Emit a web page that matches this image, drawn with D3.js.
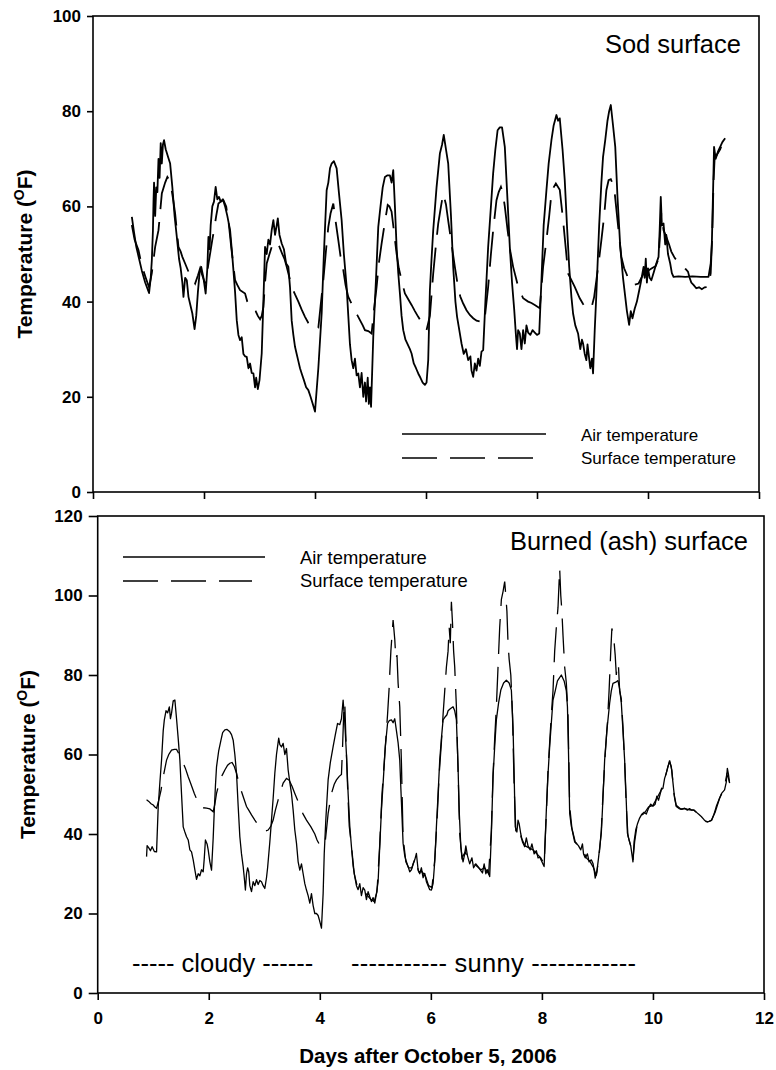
<!DOCTYPE html>
<html>
  <head>
    <meta charset="utf-8" />
    <script src="https://d3js.org/d3.v7.min.js"></script>
    <style>
      body { margin: 0; background: #fff; }
      text { font-family: "Liberation Sans", Arial, sans-serif; }
    </style>
  </head>
  <body>
    <svg id="viz"></svg>
    <script>
    // days after Oct 5 2006 vs temperature (F)
    var sodAir = [[0.70,57.8],[0.74,54.5],[0.78,51.5],[0.83,49],[0.88,46.5],[0.94,44],[1.01,41.8],[1.04,45],[1.06,48.7],[1.08,55],[1.09,61],[1.10,65],[1.12,58],[1.14,64],[1.16,63],[1.18,70],[1.20,66],[1.22,73.3],[1.24,69],[1.26,73],[1.28,73.9],[1.31,72],[1.35,70.5],[1.39,69],[1.43,64],[1.47,58],[1.51,53.6],[1.55,49],[1.58,47],[1.61,44],[1.63,41],[1.66,45],[1.69,44.5],[1.72,41],[1.75,39.5],[1.79,37.5],[1.83,34.2],[1.86,37],[1.89,42],[1.92,46],[1.95,47.3],[1.99,45],[2.03,41.7],[2.06,47],[2.08,53.6],[2.10,51],[2.12,56],[2.15,60],[2.18,61],[2.21,64.1],[2.24,61.5],[2.27,62],[2.30,61],[2.34,61.5],[2.38,60],[2.42,58],[2.47,55],[2.50,51],[2.53,46.6],[2.56,42],[2.59,36.1],[2.62,33],[2.65,31.9],[2.68,32.5],[2.71,29],[2.74,28.5],[2.77,28.4],[2.80,26],[2.83,27],[2.86,25],[2.89,24.9],[2.92,22],[2.94,24],[2.97,21.6],[3.00,23.5],[3.04,29.1],[3.07,40],[3.10,51.5],[3.13,50],[3.16,53],[3.19,52],[3.22,55],[3.25,57.1],[3.28,54],[3.31,56],[3.33,57.5],[3.36,54],[3.40,52.2],[3.44,51],[3.48,48],[3.52,47.3],[3.55,43],[3.58,36],[3.61,33],[3.64,30.5],[3.67,29],[3.70,27.5],[3.73,26],[3.76,24.9],[3.80,23.5],[3.84,22],[3.88,21.4],[3.92,20],[3.96,18.5],[4.00,16.9],[4.06,26],[4.12,37.5],[4.16,50],[4.21,63.4],[4.24,65],[4.27,68],[4.30,69],[4.34,69.5],[4.39,68],[4.43,63],[4.48,57.1],[4.52,50],[4.57,43.1],[4.60,37],[4.63,31],[4.66,27.7],[4.69,26],[4.72,28],[4.75,24.5],[4.78,24.9],[4.81,22],[4.84,25],[4.87,20],[4.90,23],[4.92,19],[4.95,24],[4.97,18.5],[4.99,22],[5.01,17.9],[5.05,32.6],[5.10,45],[5.14,55.7],[5.18,60],[5.22,64],[5.26,66.2],[5.30,66.5],[5.35,66.5],[5.38,65],[5.41,67.6],[5.44,60],[5.47,51.5],[5.50,46],[5.53,41.7],[5.56,37],[5.59,34],[5.63,32],[5.67,31],[5.71,30],[5.74,29.1],[5.78,27],[5.82,26],[5.86,24.9],[5.90,24],[5.94,23],[5.98,22.5],[6.01,23],[6.04,27.7],[6.07,42.4],[6.10,49],[6.13,55],[6.19,64],[6.25,71.1],[6.29,73],[6.32,75],[6.36,72],[6.40,69],[6.45,58],[6.49,47.3],[6.53,40],[6.56,36.8],[6.60,34],[6.64,31.2],[6.68,29],[6.72,30],[6.76,27.7],[6.80,28.5],[6.82,25.5],[6.85,24.2],[6.88,27],[6.91,25.5],[6.94,28],[6.97,26.5],[7.00,29.5],[7.03,29.8],[7.07,40],[7.12,51.5],[7.17,60],[7.21,67],[7.25,72],[7.29,76],[7.33,76.6],[7.37,76.6],[7.42,72.5],[7.47,61],[7.51,51.5],[7.55,44],[7.59,38.2],[7.62,33],[7.64,30],[7.66,34],[7.69,33.3],[7.72,30],[7.75,34],[7.78,31.2],[7.81,35],[7.84,33.5],[7.88,33],[7.92,34],[7.96,33.5],[8.00,33],[8.04,33.3],[8.08,44.5],[8.12,56],[8.17,63.4],[8.21,69],[8.26,73.9],[8.30,77],[8.35,79.2],[8.38,78],[8.41,78.5],[8.46,72],[8.50,65.5],[8.54,56],[8.58,47.3],[8.62,41],[8.65,37.5],[8.69,35],[8.74,33.3],[8.78,30],[8.81,32],[8.83,31.2],[8.86,29],[8.89,27.7],[8.91,31],[8.93,29],[8.96,26],[8.99,28],[9.01,24.9],[9.04,34],[9.07,41.7],[9.12,56],[9.16,65],[9.19,70.4],[9.23,74],[9.27,78],[9.30,80],[9.33,81.3],[9.37,77],[9.41,72.5],[9.45,62],[9.50,51.5],[9.55,45],[9.59,41],[9.62,38],[9.66,35.1],[9.69,38],[9.72,36.5],[9.76,38.5],[9.80,40],[9.83,41.7],[9.87,44],[9.90,46],[9.92,47.3],[9.94,45],[9.96,49],[9.98,44],[10.00,47],[10.03,45],[10.06,44.5],[10.10,46],[10.15,48],[10.19,49.4],[10.21,55],[10.23,62],[10.25,56],[10.28,56.4],[10.31,52],[10.33,54],[10.36,50],[10.40,48],[10.43,46],[10.46,45.2],[10.55,45.3],[10.67,45.2],[10.80,45.3],[10.95,45.2],[11.09,45.2],[11.13,48],[11.15,52],[11.17,62],[11.19,72.5],[11.22,70],[11.26,71.5],[11.30,72.5],[11.34,73.5],[11.39,74.3]];

    var sodSurface = [[0.70,56.1],[0.75,53],[0.82,50.8],[0.88,47.5],[0.95,45],[1.01,43],[1.06,46],[1.12,51.5],[1.18,55],[1.24,62.7],[1.30,65],[1.34,66.2],[1.38,65.5],[1.41,64],[1.45,61],[1.48,58.5],[1.54,51.5],[1.58,50.5],[1.61,49.4],[1.66,48],[1.72,46.3],[1.78,45],[1.84,43.8],[1.89,45.5],[1.93,47],[1.97,45.5],[2.02,43.8],[2.06,46.5],[2.11,50.1],[2.15,53],[2.19,55.7],[2.22,58],[2.26,60.6],[2.30,61],[2.35,61.3],[2.40,60],[2.45,56],[2.49,51.5],[2.53,47.5],[2.56,44.5],[2.60,43.5],[2.65,42.4],[2.70,42],[2.74,41.7],[2.78,40],[2.83,38.6],[2.88,38.5],[2.93,38],[2.97,37],[3.01,36.3],[3.04,37],[3.07,38.9],[3.10,44],[3.13,48],[3.18,50],[3.22,51.5],[3.27,52.5],[3.31,52.6],[3.36,51.5],[3.41,50],[3.45,49],[3.49,47.3],[3.54,45],[3.58,43.1],[3.64,41.5],[3.70,40],[3.76,38.3],[3.82,36.8],[3.88,35.5],[3.94,34.4],[4.00,34.2],[4.06,34.5],[4.10,39],[4.15,44.5],[4.20,51],[4.24,55.7],[4.28,58.5],[4.33,60.6],[4.37,57],[4.42,52.9],[4.46,49.5],[4.51,46.6],[4.55,43.5],[4.60,41],[4.66,39.5],[4.72,37.9],[4.77,37],[4.81,36.1],[4.86,35],[4.90,34],[4.96,33.8],[5.02,33.3],[5.06,38],[5.11,43.1],[5.15,48],[5.20,52.2],[5.25,56],[5.31,60.3],[5.34,60],[5.38,58.9],[5.42,55],[5.47,50.1],[5.51,47],[5.56,44.5],[5.62,41.7],[5.68,40.5],[5.74,39.3],[5.80,38],[5.86,36.8],[5.93,35.5],[6.01,34],[6.07,37],[6.13,45.9],[6.18,52],[6.22,56.4],[6.27,60],[6.31,62.7],[6.36,60.4],[6.40,57],[6.45,52.9],[6.52,47.3],[6.58,42.8],[6.62,41],[6.67,39.6],[6.73,38.2],[6.79,37.2],[6.85,36.5],[6.91,36],[6.98,35.8],[7.05,35.6],[7.12,43.1],[7.17,50],[7.21,55],[7.27,61.3],[7.31,63],[7.35,64.1],[7.38,63],[7.42,60],[7.47,55],[7.52,50.5],[7.57,47.3],[7.62,45],[7.66,43.1],[7.75,40.7],[7.84,40],[7.90,39.7],[7.96,39.3],[8.05,38.6],[8.11,47.3],[8.17,52.9],[8.22,58],[8.26,62.7],[8.30,64],[8.34,64.8],[8.41,63.5],[8.47,57.1],[8.52,51],[8.56,45.9],[8.62,44.5],[8.68,43.1],[8.77,40.7],[8.83,39.5],[8.89,38.6],[8.98,38.6],[9.03,41],[9.07,44.5],[9.12,49],[9.16,52.9],[9.21,58],[9.25,63.4],[9.29,65.5],[9.33,65.7],[9.39,64],[9.45,57.1],[9.52,49.4],[9.57,47],[9.61,45.9],[9.68,43.8],[9.75,43.5],[9.83,43.8],[9.92,45.9],[10.00,46.5],[10.07,47],[10.14,47.5],[10.19,49],[10.24,58.5],[10.28,55],[10.33,53.6],[10.38,52],[10.42,50.5],[10.48,49.2],[10.55,48.2],[10.62,47.5],[10.68,46.8],[10.72,46.3],[10.75,45],[10.78,44],[10.82,43.5],[10.87,42.8],[10.92,43],[10.97,42.6],[11.02,43],[11.09,43.1],[11.13,46],[11.16,55],[11.18,65],[11.20,70],[11.25,71],[11.30,72],[11.35,73.5],[11.40,74]];

    var ashAir = [[0.88,34.3],[0.89,37.1],[0.92,36.5],[0.95,35.8],[0.98,36.8],[1.02,35.6],[1.06,35.5],[1.09,46.9],[1.12,53],[1.15,58.6],[1.18,66],[1.20,68.7],[1.23,71],[1.26,70.5],[1.29,72],[1.31,69],[1.33,70.4],[1.36,73.5],[1.39,73.7],[1.42,69],[1.45,64],[1.48,58.6],[1.51,50],[1.54,41.8],[1.57,40.5],[1.60,39.3],[1.63,38.5],[1.66,36],[1.69,35.5],[1.72,33.5],[1.75,31],[1.78,28.6],[1.81,30],[1.84,29.5],[1.87,31],[1.90,30.5],[1.92,34],[1.94,38.5],[1.97,37.5],[1.99,36],[2.02,33],[2.05,30.9],[2.08,39],[2.10,46],[2.12,52],[2.14,56.9],[2.18,61],[2.22,63.6],[2.25,65.5],[2.29,66.2],[2.33,66.3],[2.38,65.7],[2.41,65],[2.44,63.6],[2.47,60],[2.50,55.3],[2.53,47],[2.56,39.3],[2.59,35],[2.62,31.8],[2.64,29],[2.66,25.9],[2.68,30],[2.70,31.5],[2.72,30.5],[2.74,27],[2.77,25.5],[2.80,28],[2.83,27],[2.86,28.5],[2.89,27.3],[2.92,28.3],[2.95,28],[2.98,27],[3.01,26.3],[3.04,29],[3.06,31.5],[3.10,38],[3.13,43.5],[3.16,49],[3.19,55.3],[3.22,60],[3.26,64.1],[3.28,62.5],[3.31,61.9],[3.34,62.8],[3.37,60],[3.40,61.5],[3.43,56.1],[3.46,53],[3.49,50.2],[3.52,46],[3.55,41],[3.58,37.7],[3.61,33],[3.64,30.9],[3.67,32.5],[3.70,30],[3.73,27.5],[3.76,25.9],[3.79,24.5],[3.82,22.6],[3.85,25],[3.88,22],[3.91,20],[3.94,20],[3.97,19.5],[3.99,18.5],[4.03,16.3],[4.06,25],[4.08,35.1],[4.11,44],[4.15,53.6],[4.19,58],[4.24,62],[4.28,65],[4.32,67.8],[4.36,67.5],[4.39,69],[4.42,73.7],[4.45,68],[4.48,60],[4.51,50.2],[4.54,42],[4.57,36.8],[4.60,32],[4.63,29.3],[4.66,27],[4.69,26],[4.72,27.5],[4.75,24.5],[4.78,26.5],[4.81,25.9],[4.84,23.5],[4.87,25.5],[4.90,24.2],[4.93,23],[4.96,24],[4.99,22.6],[5.02,25],[5.05,28],[5.08,37],[5.11,46],[5.15,55],[5.18,62],[5.22,67.8],[5.25,68.5],[5.29,68.7],[5.32,68],[5.35,69],[5.38,66],[5.41,63],[5.44,58.6],[5.47,48],[5.50,37.7],[5.53,34.5],[5.56,33],[5.59,31.8],[5.62,30.5],[5.65,31],[5.68,32.5],[5.71,33.5],[5.74,35.1],[5.77,31],[5.80,30],[5.83,31.5],[5.86,29],[5.89,30.1],[5.92,28],[5.95,27],[5.98,26],[6.01,25.9],[6.04,27.5],[6.07,33],[6.10,41.8],[6.13,50],[6.16,58.6],[6.19,64],[6.22,68.7],[6.26,69.5],[6.29,70],[6.31,71],[6.35,71.5],[6.40,72],[6.43,71],[6.46,68.7],[6.49,56.9],[6.51,46],[6.54,36.8],[6.56,34.5],[6.58,33],[6.61,35],[6.63,37],[6.66,34.5],[6.70,32.5],[6.74,34],[6.77,31.5],[6.81,32.5],[6.85,31.8],[6.89,31],[6.93,30.2],[6.96,32.5],[6.99,30],[7.02,31],[7.06,29.3],[7.09,40],[7.12,54.4],[7.15,62],[7.18,68.7],[7.22,73],[7.26,76.2],[7.31,78],[7.36,78.7],[7.41,78],[7.45,76.2],[7.48,67],[7.50,55],[7.52,41.8],[7.55,40.5],[7.57,43.5],[7.59,42.6],[7.62,40],[7.65,38],[7.69,36.8],[7.72,39],[7.75,37],[7.79,36],[7.82,37.5],[7.86,35],[7.90,35.8],[7.93,34],[7.96,34.2],[8.00,33],[8.04,31.8],[8.08,46],[8.11,55],[8.14,62],[8.17,68],[8.20,73.7],[8.24,76],[8.28,78.5],[8.35,80],[8.40,78.5],[8.44,76],[8.46,72],[8.48,60],[8.50,45.2],[8.53,42],[8.56,40],[8.59,38],[8.62,37.7],[8.66,37],[8.70,36],[8.73,37.5],[8.75,35],[8.78,34],[8.82,35],[8.85,33],[8.89,33.5],[8.92,32.6],[8.94,31],[8.96,28.9],[8.99,30.5],[9.02,34],[9.07,40.2],[9.10,49],[9.13,58.6],[9.17,66],[9.22,72.9],[9.25,76],[9.28,77.9],[9.33,78.2],[9.37,78.6],[9.40,76.5],[9.43,73],[9.46,66],[9.49,58.6],[9.52,48],[9.54,40.2],[9.57,38.5],[9.60,37],[9.62,35],[9.64,33],[9.66,38],[9.69,41],[9.72,42.5],[9.76,44],[9.80,45],[9.84,45.5],[9.88,45],[9.92,46.5],[9.96,47.5],[10.00,47],[10.04,47.5],[10.07,49.5],[10.10,48.5],[10.15,51.1],[10.18,51.5],[10.21,54],[10.24,55.3],[10.27,57],[10.30,58.2],[10.33,57],[10.36,53],[10.39,49],[10.42,46.9],[10.47,46.4],[10.52,46.2],[10.57,46.5],[10.62,46],[10.66,46.4],[10.69,46],[10.74,46],[10.78,45.5],[10.83,44.9],[10.87,44.4],[10.92,43.6],[10.96,43.1],[11.01,43.2],[11.06,43.5],[11.10,45],[11.14,46.9],[11.19,48.7],[11.24,50.3],[11.29,51.1],[11.32,53],[11.34,56.5],[11.36,55],[11.38,52.8]];

    var ashSurface = [[0.88,48.6],[0.92,48.2],[0.96,47.6],[1.00,47.3],[1.03,46.8],[1.06,46.5],[1.10,48.5],[1.14,51],[1.18,54.4],[1.24,58.6],[1.28,60],[1.33,61.1],[1.38,61.3],[1.42,61.3],[1.45,60.5],[1.48,59.5],[1.54,57.8],[1.58,56.5],[1.63,54.4],[1.68,52.5],[1.74,50.2],[1.79,48.5],[1.84,46.9],[1.90,46.6],[1.96,46.5],[2.02,46.3],[2.08,45.6],[2.11,47.5],[2.14,50.2],[2.20,53.6],[2.25,55],[2.29,56.1],[2.34,57.3],[2.38,57.8],[2.42,58],[2.46,57],[2.50,55.3],[2.54,53],[2.58,51.1],[2.63,49],[2.68,46.9],[2.72,46],[2.77,44.8],[2.83,43.5],[2.89,42.3],[2.94,41.5],[2.98,41],[3.03,40.8],[3.07,41],[3.12,42],[3.16,43.5],[3.20,46],[3.25,48.6],[3.30,51],[3.34,52.8],[3.40,54],[3.45,53.5],[3.50,52],[3.55,50.2],[3.60,48.5],[3.64,46.9],[3.70,45],[3.76,43.5],[3.84,41.8],[3.91,40],[3.95,38.5],[4.00,37.2],[4.05,37],[4.09,37.1],[4.12,41],[4.15,45.2],[4.21,50.2],[4.26,52.5],[4.30,53.6],[4.35,54.5],[4.39,55],[4.41,62],[4.43,70],[4.45,73],[4.47,64],[4.50,52],[4.53,42],[4.57,37],[4.62,30],[4.68,26.5],[4.74,25.5],[4.80,25.5],[4.86,24.5],[4.92,23.5],[4.98,23],[5.03,25.5],[5.08,37.5],[5.12,50],[5.16,58],[5.19,64],[5.22,70],[5.25,77],[5.26,80.4],[5.28,86],[5.30,90],[5.32,93.8],[5.35,89],[5.37,84],[5.39,85],[5.41,78],[5.44,72],[5.47,58],[5.50,39],[5.55,33],[5.60,31.5],[5.66,31.5],[5.72,34],[5.78,30.5],[5.84,30.5],[5.90,29.5],[5.96,27],[6.02,26.5],[6.07,33.5],[6.11,43],[6.15,55],[6.19,63],[6.22,70],[6.25,76],[6.28,82],[6.31,86],[6.33,92],[6.35,88],[6.37,98.4],[6.39,93],[6.41,86],[6.43,82],[6.46,72],[6.49,56],[6.52,40],[6.56,34],[6.62,35.5],[6.68,33.5],[6.75,33],[6.82,32],[6.90,31],[6.97,31.5],[7.04,30],[7.09,41],[7.12,55],[7.15,64],[7.18,72],[7.21,82],[7.24,92],[7.27,99],[7.30,101],[7.33,103.5],[7.35,100],[7.37,96],[7.39,88],[7.41,84],[7.44,80],[7.47,70],[7.50,52],[7.53,41],[7.58,42],[7.63,39],[7.70,37],[7.77,36.5],[7.84,36],[7.91,35],[7.98,34],[8.04,32.5],[8.08,45],[8.11,56],[8.14,63],[8.17,70],[8.20,76],[8.23,86],[8.26,92],[8.29,97],[8.32,106.8],[8.34,100],[8.36,96],[8.38,90],[8.41,82],[8.44,78],[8.47,70],[8.50,47],[8.54,41.5],[8.60,38],[8.67,36.5],[8.74,36],[8.80,34],[8.87,33],[8.93,31.5],[8.98,29.5],[9.03,34.5],[9.07,41],[9.10,50],[9.14,60],[9.18,68],[9.21,76],[9.24,86],[9.26,91.7],[9.29,90],[9.32,85],[9.34,80],[9.36,83],[9.38,82],[9.40,76],[9.43,74],[9.46,67],[9.49,58],[9.52,47],[9.55,39.5],[9.60,37],[9.64,33.5],[9.67,38],[9.72,42.8],[9.78,44.5],[9.85,45.3],[9.92,46.8],[10.00,47.2],[10.07,49],[10.14,50.8],[10.20,53.5],[10.25,55.8],[10.30,58.5],[10.34,56],[10.38,50],[10.42,47.2],[10.50,46.3],[10.58,46.4],[10.66,46.1],[10.74,46],[10.82,45],[10.90,43.8],[10.98,43],[11.05,43.4],[11.12,45.5],[11.20,49],[11.28,51.4],[11.33,55],[11.36,54],[11.38,53]];

    var xTicks = [0, 2, 4, 6, 8, 10, 12];
    var sodYTicks = [0, 20, 40, 60, 80, 100];
    var ashYTicks = [0, 20, 40, 60, 80, 100, 120];
    var seriesNames = ["Air temperature", "Surface temperature"];
    var xTitle = "Days after October 5, 2006";

    var svg = d3.select("#viz").attr("width", 776).attr("height", 1070);

    function panel(opt) {
      var x = d3.scaleLinear().domain([0, 12]).range([opt.left, opt.right]);
      var y = d3.scaleLinear().domain([0, opt.yMax]).range([opt.bottom, opt.top]);
      var g = svg.append("g");

      var line = d3.line().x(function(d) { return x(d[0]); }).y(function(d) { return y(d[1]); });

      g.append("path").datum(opt.surface)
        .attr("d", line).attr("fill", "none").attr("stroke", "#000")
        .attr("stroke-width", opt.lw).attr("stroke-dasharray", "35,13");
      g.append("path").datum(opt.air)
        .attr("d", line).attr("fill", "none").attr("stroke", "#000")
        .attr("stroke-width", opt.lw).attr("stroke-linejoin", "round");

      g.append("rect")
        .attr("x", opt.left).attr("y", opt.top)
        .attr("width", opt.right - opt.left).attr("height", opt.bottom - opt.top)
        .attr("fill", "none").attr("stroke", "#000").attr("stroke-width", 1.6);

      var ya = g.append("g").attr("transform", "translate(" + opt.left + ",0)")
        .call(d3.axisLeft(y).tickValues(opt.yTicks).tickSize(opt.yTick).tickPadding(6));
      var xa = g.append("g").attr("transform", "translate(0," + opt.bottom + ")")
        .call(d3.axisBottom(x).tickValues(xTicks).tickSize(7).tickPadding(12)
          .tickFormat(opt.xLabels ? d3.format("d") : ""));
      [ya, xa].forEach(function(a) {
        a.select(".domain").remove();
        a.selectAll("line").attr("stroke-width", 1.6);
        a.selectAll("text").attr("font-family", "Liberation Sans, Arial, sans-serif")
          .attr("font-weight", "bold").attr("font-size", 17).attr("fill", "#000");
      });

      // y title with superscript O
      var yt = g.append("text")
        .attr("transform", "translate(" + opt.yTitleX + "," + ((opt.top + opt.bottom) / 2) + ") rotate(-90)")
        .attr("text-anchor", "middle").attr("font-weight", "bold").attr("font-size", 21);
      yt.append("tspan").text("Temperature (");
      yt.append("tspan").attr("font-size", 14).attr("dy", -8).text("O");
      yt.append("tspan").attr("dy", 8).text("F)");

      g.append("text").attr("x", opt.titleX).attr("y", opt.titleY)
        .attr("text-anchor", "end").attr("font-size", 25.5).text(opt.title);

      // legend
      var lg = opt.legend;
      g.append("line").attr("x1", lg.x1).attr("x2", lg.x2).attr("y1", lg.y).attr("y2", lg.y)
        .attr("stroke", "#000").attr("stroke-width", 1.4);
      g.append("line").attr("x1", lg.x1).attr("x2", lg.x2d).attr("y1", lg.y + 24).attr("y2", lg.y + 24)
        .attr("stroke", "#000").attr("stroke-width", 1.4).attr("stroke-dasharray", "35,13");
      seriesNames.forEach(function(s, i) {
        g.append("text").attr("x", lg.tx).attr("y", lg.y + 7 + i * 23)
          .attr("font-size", lg.fs).text(s);
      });
      return g;
    }

    panel({
      left: 93, right: 759, top: 16, bottom: 492, yMax: 100, yTicks: sodYTicks, yTick: 6,
      air: sodAir, surface: sodSurface, lw: 1.8, xLabels: false, yTitleX: 32,
      title: "Sod surface", titleX: 741, titleY: 53,
      legend: { x1: 402, x2: 546, x2d: 533, y: 434, tx: 581, fs: 17 }
    });

    var bottom = panel({
      left: 97.7, right: 764, top: 516, bottom: 993, yMax: 120, yTicks: ashYTicks, yTick: 9,
      air: ashAir, surface: ashSurface, lw: 1.3, xLabels: true, yTitleX: 35,
      title: "Burned (ash) surface", titleX: 748, titleY: 550,
      legend: { x1: 123, x2: 265, x2d: 252, y: 557, tx: 300, fs: 18.4 }
    });

    bottom.append("text").attr("x", 132).attr("y", 972).attr("font-size", 25.5).text("----- cloudy ------");
    bottom.append("text").attr("x", 351).attr("y", 972).attr("font-size", 25.5)
      .attr("textLength", 285).attr("lengthAdjust", "spacing").text("----------- sunny ------------");

    svg.append("text").attr("x", 428).attr("y", 1063).attr("text-anchor", "middle")
      .attr("font-weight", "bold").attr("font-size", 20.5).text(xTitle);
    </script>
  </body>
</html>
